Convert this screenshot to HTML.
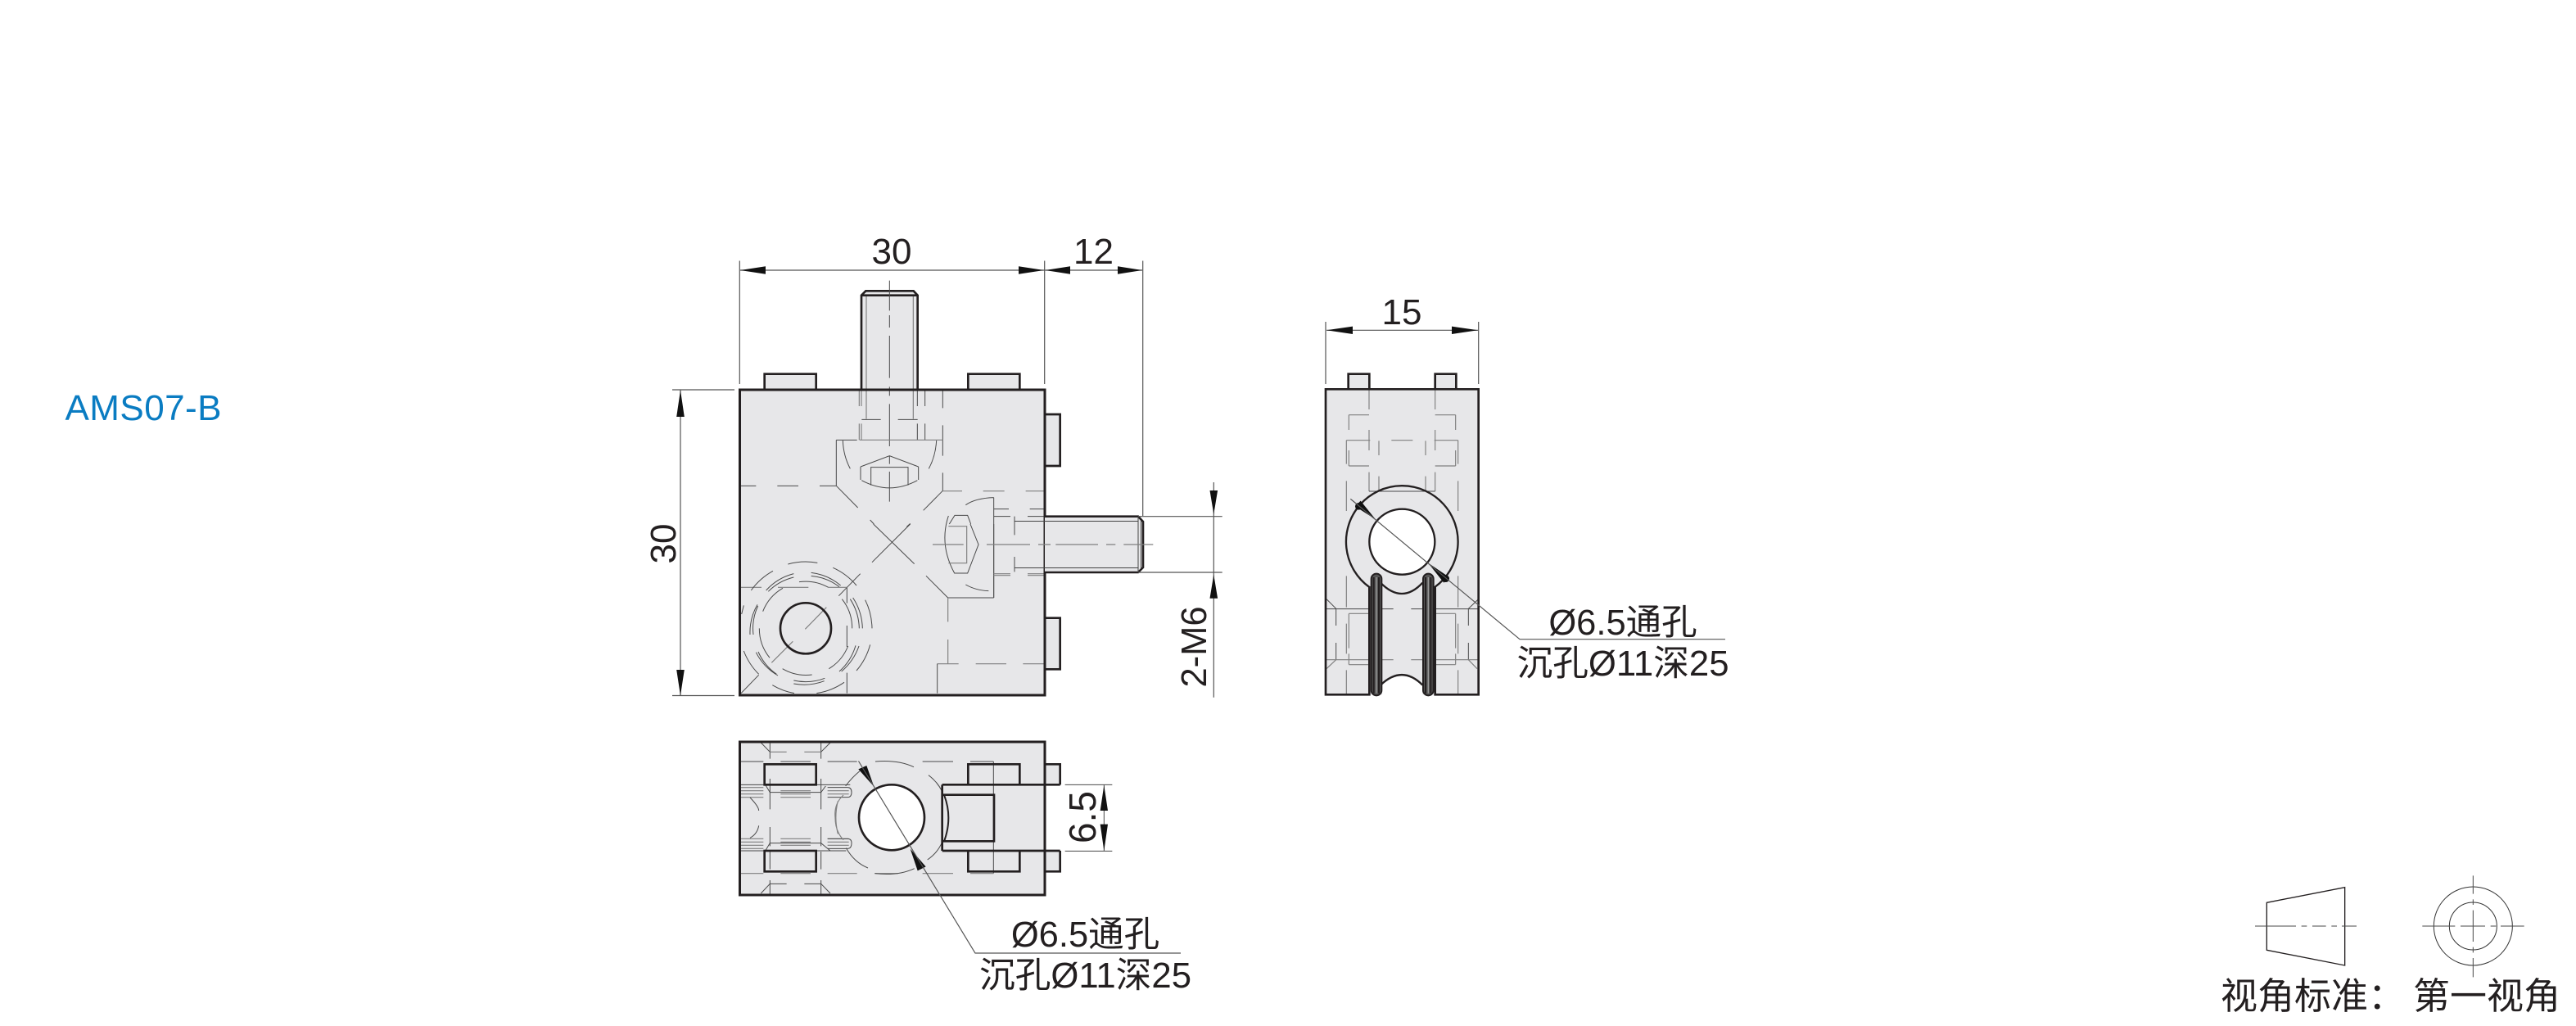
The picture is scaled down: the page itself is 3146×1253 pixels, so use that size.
<!DOCTYPE html>
<html><head><meta charset="utf-8"><style>
html,body{margin:0;padding:0;background:#fff}
svg{display:block}
text{font-family:"Liberation Sans","Noto Sans CJK SC",sans-serif;fill:#231f20}
.t{fill:none;stroke:#4a4a4a;stroke-width:3}
.g{fill:none;stroke:#808080;stroke-width:3.5}
.b{fill:none;stroke:#231f20;stroke-width:8}
.d{fill:none;stroke:#555;stroke-width:1.2}
.a{fill:#111;stroke:none}
</style></head><body>
<svg width="3146" height="1253" viewBox="0 0 3146 1253" xmlns="http://www.w3.org/2000/svg">
<rect width="3146" height="1253" fill="#fff"/>
<text x="79.5" y="513" font-size="44" textLength="191" style="fill:#0a7cc2">AMS07-B</text>

<!-- FRONT VIEW top part -->
<g transform="translate(890,340) scale(.33333)">
<path d="M486,405V62L502,46H677L692,62V405Z" fill="#e7e7e9"/>
<rect x="131" y="350" width="189" height="57" fill="#e7e7e9"/>
<rect x="877" y="350" width="189" height="57" fill="#e7e7e9"/>
<rect x="1158" y="498" width="56" height="189" fill="#e7e7e9"/>
<rect x="38" y="407" width="1120" height="1120" fill="#e7e7e9"/>
<path class="g" d="M504,62V515M676,62V515"/>
<path class="b" d="M486,405V62L502,46H677L692,62V405M486,62H692"/>
<path class="b" d="M131,405V350H320V405M877,405V350H1066V405M1158,498H1214V687H1158"/>
<path class="t" d="M589,8V118M589,135V180M589,210V365M589,397V430M589,460V615M589,650V680M589,708V818"/>
<path class="g" d="M478,410V468M486,410V468M478,532V592M486,532V592"/>
<path class="t" d="M691,410V468M719,410V468M691,532V592M719,532V592M784,410V475M784,538V650M784,712V778"/>
<path class="t" d="M487,517H557M620,517H692M394,592H470M394,592V760M45,760H100M178,760H255M333,760H394M394,760L473,840M518,885L532,900"/>
<path class="g" d="M480,592H784"/>
<path class="t" d="M418,594Q420,650 445,697M761,594Q758,650 733,697"/>
<path class="t" d="M483,690L589,650L695,690M483,690V738M695,690V738M487,740Q589,795 691,740M521,758V692H657V758"/>
<path class="t" d="M784,778L713,850M665,898L652,910M868,830Q905,805 971,803M971,803V1170"/>
<path class="g" d="M784,779H855M932,779H1010M1088,779H1155"/>
<path class="t" d="M971,845H1026M1103,845H1155M971,872H1032M1095,872H1155M1047,872V940M1047,1020V1075"/>
<path class="t" d="M808,900L828,868H875L887,900"/>
</g>

<!-- FRONT VIEW lower part -->
<g transform="translate(890,640) scale(.33333)">
<rect x="1158" y="344" width="54" height="186" fill="#e7e7e9"/>
<path class="b" d="M1158,344H1214V532H1158"/>
<path class="t" d="M885,0L915,75L875,180H827Q770,75 805,-30"/>
<path class="g" d="M805,8H872V143H805"/>
<path class="t" d="M868,222Q905,243 952,245M971,0V270M803,270H971M723,190L803,270"/>
<path class="g" d="M971,182H1032M1095,182H1158M971,188H1032M1095,188H1158M803,270V358M803,423V512M842,512H764M905,512H1017M1078,512H1155"/>
<path class="t" d="M764,512V620M530,0L680,146M665,0L525,140M482,182L403,263"/>
<path class="g" d="M358,305L280,385M235,430L157,508"/>
<path class="t" d="M110,553L45,620M433,232V290M433,372V450M433,545V620"/>
<path class="g" d="M45,232H120M180,232H292M365,232H433"/>
<path class="t" d="M125,320A170,170 0 0 1 198,235M258,212A170,170 0 0 1 365,232M415,275A170,170 0 0 1 452,382M112,382A170,170 0 0 0 150,490M197,530A170,170 0 0 0 305,552M367,530A170,170 0 0 0 437,447"/>
<path class="t" d="M137,243A205,205 0 0 1 238,182M145,247A195,195 0 0 1 238,195M302,178A205,205 0 0 1 410,225M302,190A195,195 0 0 1 405,230M445,275A205,205 0 0 1 478,382M455,270A215,215 0 0 1 490,382"/>
<path class="t" d="M78,405A205,205 0 0 1 105,295M90,405A195,195 0 0 1 107,300M100,470A205,205 0 0 0 180,555M108,468A195,195 0 0 0 175,550M238,573A200,200 0 0 0 352,565M238,585A210,210 0 0 0 350,575M405,540A205,205 0 0 0 465,445M413,540A215,215 0 0 0 477,447"/>
<path class="t" d="M82,243A245,245 0 0 1 162,172M217,147A245,245 0 0 1 325,142M382,160A245,245 0 0 1 468,225M500,278A245,245 0 0 1 525,382M518,442A245,245 0 0 1 468,537M423,580A245,245 0 0 1 322,620M240,620A245,245 0 0 1 160,590M110,550A245,245 0 0 1 55,465M47,330L55,298"/>
<circle cx="282" cy="382" r="93" class="b"/>
</g>

<!-- Body outline on top -->
<rect x="903.5" y="476" width="372.5" height="373" fill="none" stroke="#231f20" stroke-width="3"/>

<!-- Right stud -->
<path d="M1276,630.7H1390L1396,637V693L1390,699H1276Z" fill="#e7e7e9"/>
<path d="M1276,630.7H1390L1396,637V693L1390,699H1276" fill="none" stroke="#231f20" stroke-width="2.6"/>
<path d="M1239,636.5H1390M1239,693.5H1390M1390,631V699M1393.5,636V694" fill="none" stroke="#444" stroke-width="1"/>
<path d="M1139,665H1176.7M1205,665H1258M1268,665H1283M1289.3,665H1341M1351,665H1362.3M1372.3,665H1408.3" fill="none" stroke="#808080" stroke-width="1.2"/>

<!-- Front view dimensions -->
<path class="d" d="M903.3,318.5V469M1275.7,318.5V469M1395.7,318.5V630M904,330H1395M821,476H897M821,849.5H897M831,476V850M1482.3,589V851.7M1390,630.7H1492.7M1390,699H1492.7"/>
<path class="a" d="M904,330L935,325.2V334.8ZM1275,330L1244,325.2V334.8ZM1276.5,330L1307,325.2V334.8ZM1395,330L1365,325.2V334.8Z"/>
<path class="a" d="M831,476.5L826.2,509H835.8ZM831,849.5L826.2,818H835.8Z"/>
<path class="a" d="M1482.3,628L1477.5,599H1487.1ZM1482.3,701.7L1477.5,730.7H1487.1Z"/>
<text x="1089" y="322" font-size="44" text-anchor="middle">30</text>
<text x="1335.5" y="322" font-size="44" text-anchor="middle">12</text>
<text transform="translate(825,664) rotate(-90)" font-size="44" text-anchor="middle">30</text>
<text transform="translate(1473,790) rotate(-90)" font-size="43.5" text-anchor="middle">2-M6</text>

<!-- BOTTOM VIEW -->
<g transform="translate(890,895) scale(.33333)">
<rect x="1158" y="115" width="56" height="75" fill="#e7e7e9"/>
<rect x="1158" y="432" width="56" height="76" fill="#e7e7e9"/>
<rect x="38" y="32" width="1120" height="560" fill="#e7e7e9"/>
<path class="t" d="M151,32V95M151,168V280M151,345V415M151,435V500M151,540V592M338,32V95M338,168V280M338,345V415M338,435V500M338,540V592"/>
<path class="t" d="M118,36L151,70M372,36L338,70M118,588L151,553M372,588L338,553"/>
<path class="g" d="M151,70H212M277,70H338"/>
<path class="t" d="M151,553H212M277,553H338M970,105V515"/>
<path class="t" d="M45,105H127M190,105H300M362,105H470M710,105H822M885,105H970"/>
<path class="g" d="M45,515H127M190,515H300M362,515H470M535,515H620M710,515H822M885,515H970"/>
<path class="g" d="M45,200H127M45,212H127M45,224H127M45,236H127M190,212H300M190,224H300M190,236H300M362,212H440M362,224H440M45,388H127M45,400H127M45,412H127M45,424H127M190,388H300M190,400H300M190,412H300M362,388H440M362,400H440M362,412H440"/>
<path class="t" d="M362,200H435Q450,200 450,218Q450,236 435,236H362M362,388H435Q450,388 450,403Q450,424 435,424H362"/>
<path class="t" d="M45,190H131M320,190H445M134,190L151,218H338L355,195M134,432L151,404H338L372,432M45,432H131M320,432H430"/>
<path class="t" d="M78,237Q110,270 110,285M110,340Q105,370 78,385M428,195Q450,165 480,140M537,105Q620,98 678,125M732,155Q765,180 782,215M728,465Q765,440 782,400M430,422Q460,475 510,495M535,515Q620,525 680,497"/>
<path class="g" d="M420,228Q385,260 390,310Q390,360 420,392M400,250Q385,310 400,370"/>
<circle cx="597" cy="310" r="120" fill="#fff" stroke="#231f20" stroke-width="8"/>
<rect x="131" y="115" width="189" height="75" class="b"/>
<rect x="131" y="432" width="189" height="76" class="b"/>
<path class="b" d="M877,190V115H1066V190M877,432V508H1066V432M1158,115H1214V190M1158,432V508H1214V432"/>
<path class="b" d="M782,190H1214M782,432H1214M782,190V432M782,227H972V397H782"/>
<path fill="none" stroke="#231f20" stroke-width="6" d="M790,230Q820,310 790,395"/>
<path class="a" d="M532,197L475,133L505,120ZM665,425L722,490L692,505Z"/>
<path class="t" d="M1232,190H1405M1232,433H1405M1375,190V433"/>
<path class="a" d="M1375,192L1361,285H1389ZM1375,432L1361,335H1389Z"/>
</g>
<rect x="903.5" y="906" width="372.5" height="187" fill="none" stroke="#231f20" stroke-width="3"/>
<path class="d" d="M1048.5,929.5L1191,1164H1442"/>
<text transform="translate(1338,998) rotate(-90)" font-size="46" text-anchor="middle">6.5</text>
<text x="1325.5" y="1156" font-size="43.5" text-anchor="middle">Ø6.5通孔</text>
<text x="1325.5" y="1206" font-size="43.7" text-anchor="middle">沉孔Ø11深25</text>

<!-- SIDE VIEW -->
<g transform="translate(1600,450) scale(.33333)">
<rect x="140" y="20" width="77" height="56" fill="#e7e7e9"/>
<rect x="458" y="20" width="77" height="56" fill="#e7e7e9"/>
<rect x="57" y="76" width="560" height="1119" fill="#e7e7e9"/>
<path d="M264,1160Q337,1085 412,1160V1200H264Z" fill="#fff"/>
<path class="g" d="M216,76V150M216,225V300M216,380V450M458,76V150M458,225V300M458,380V450M252,265V318M252,395V450M423,265V318M423,395V450"/>
<path class="t" d="M216,450H458"/>
<path class="g" d="M142,170H216M458,170H533M142,170V225M142,300V357M533,170V225M533,300V357M142,357H216M458,357H533"/>
<path class="g" d="M133,263H220M298,263H376M455,263H542M133,263V350M133,412V522M133,760V875M133,935V1045M133,1105V1195M542,263V350M542,412V522M542,760V875M542,935V1045M542,1105V1195"/>
<path class="t" d="M57,881H218M264,881H305M370,881H412M456,881H617M60,845L95,880M617,845L580,880M95,881V942M95,1005V1067M580,881V942M580,1005V1067"/>
<path class="g" d="M57,1067H218M264,1067H305M370,1067H412M456,1067H617M60,1100L95,1067M612,1100L580,1067M142,898H218M458,898H533M142,898V1025M142,1045V1085M533,898V1025M533,1045V1085M142,1085H218M458,1085H533"/>
<path class="b" d="M140,76V20H217V76M458,76V20H535V76"/>
<path fill="none" stroke="#231f20" stroke-width="7" d="M217,801A205,205 0 1 1 458,800"/>
<circle cx="337" cy="635" r="120" fill="#fff" stroke="#231f20" stroke-width="7"/>
<path fill="none" stroke="#231f20" stroke-width="7" d="M258,785Q337,865 412,785M258,1160Q337,1085 412,1160"/>
<rect x="224" y="752" width="38" height="446" rx="19" fill="#555" stroke="#231f20" stroke-width="6"/>
<rect x="414" y="752" width="38" height="446" rx="19" fill="#555" stroke="#231f20" stroke-width="6"/>
<path stroke="#231f20" stroke-width="6" d="M233,765V1190M252,765V1190M423,765V1190M442,765V1190"/>
<path stroke="#999" stroke-width="4" d="M243,765V1190M433,765V1190"/>
<path fill="none" stroke="#231f20" stroke-width="8" d="M217,798V1195H57V76H617V1195H458V798"/>
<path class="a" d="M240,553L165,505L185,485ZM432,712L510,765L490,785Z"/>
<circle cx="178" cy="505" r="13" fill="#111"/>
<circle cx="497" cy="770" r="13" fill="#111"/>
</g>
<path class="d" d="M1649.3,609.3L1856,780.7H2107"/>
<path class="d" d="M1619,393V469M1805.7,393V469M1620,403.3H1805"/>
<path class="a" d="M1620,403.3L1652,398.6V408ZM1805,403.3L1773,398.6V408Z"/>
<text x="1712" y="396" font-size="44" text-anchor="middle">15</text>
<text x="1982" y="775" font-size="43.5" text-anchor="middle">Ø6.5通孔</text>
<text x="1982" y="825" font-size="43.7" text-anchor="middle">沉孔Ø11深25</text>

<!-- PROJECTION SYMBOL -->
<g transform="translate(2680,1050) scale(.33333)">
<path d="M265,157L551,101V387L265,331Z" fill="none" stroke="#231f20" stroke-width="4"/>
<path class="t" d="M222,243H372M392,243H412M432,243H482M502,243H522M540,243H594"/>
<circle cx="1021" cy="243" r="144" fill="none" stroke="#333" stroke-width="3"/>
<circle cx="1021" cy="243" r="87" fill="none" stroke="#333" stroke-width="3"/>
<path class="t" d="M835,243H955M975,243H1065M1085,243H1105M1122,243H1208M1021,58V125M1021,145V165M1021,185V300M1021,320V340M1021,360V430"/>
</g>
<text x="2712" y="1232" font-size="45">视角标准：</text>
<text x="2947" y="1232" font-size="45">第一视角</text>
</svg>
</body></html>
